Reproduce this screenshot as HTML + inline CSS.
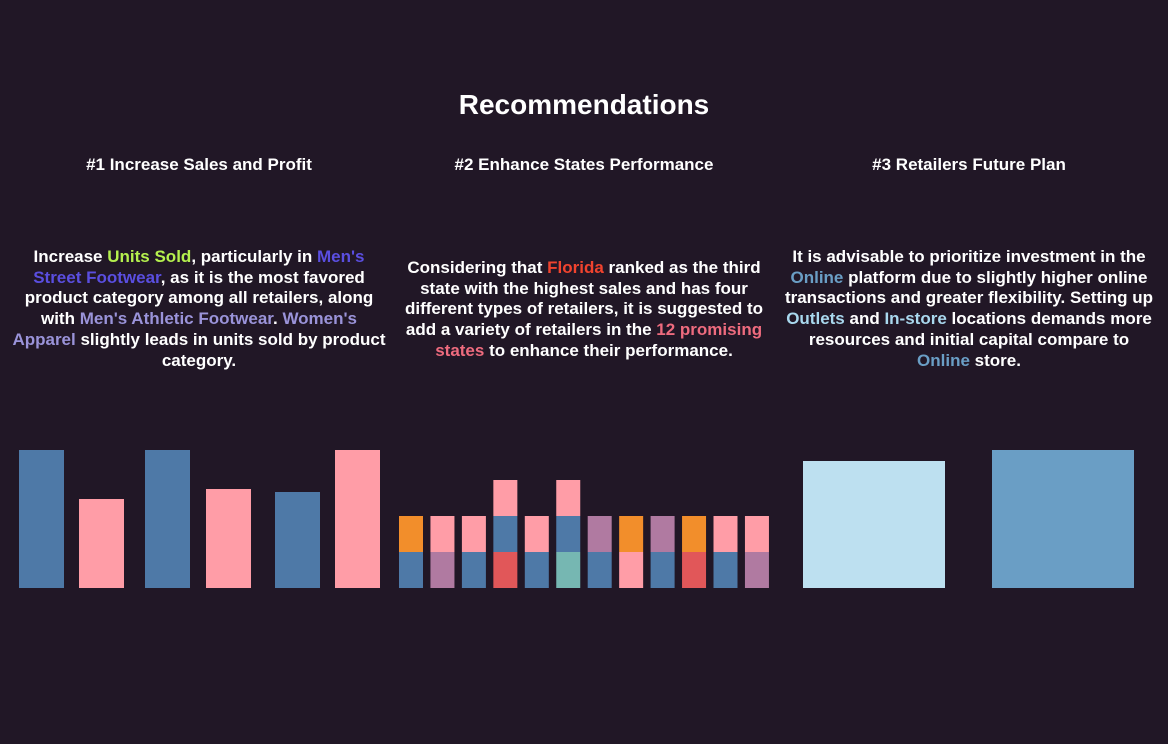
<!DOCTYPE html>
<html><head><meta charset="utf-8">
<style>
html,body{margin:0;padding:0;background:#211726;}
body{width:1168px;height:744px;position:relative;overflow:hidden;font-family:"Liberation Sans",Arial,sans-serif;color:#fff;font-weight:bold;}
.t{position:absolute;text-align:center;white-space:nowrap;}
#title{left:0;width:1168px;top:89px;font-size:28px;}
.sub{top:155px;font-size:17px;width:390px;}
.body{font-size:17px;line-height:20.7px;width:390px;}
svg{position:absolute;left:0;top:0;}
</style></head><body>
<div class="t" id="title">Recommendations</div>
<div class="t sub" style="left:4px">#1 Increase Sales and Profit</div>
<div class="t sub" style="left:389px">#2 Enhance States Performance</div>
<div class="t sub" style="left:774px">#3 Retailers Future Plan</div>
<div class="t body" style="left:4px;top:247px">Increase <span style="color:#b5f04e">Units Sold</span>, particularly in <span style="color:#5a4ee0">Men's</span><br><span style="color:#5a4ee0">Street Footwear</span>, as it is the most favored<br>product category among all retailers, along<br>with <span style="color:#9a93d9">Men's Athletic Footwear</span>. <span style="color:#9a93d9">Women's</span><br><span style="color:#9a93d9">Apparel</span> slightly leads in units sold by product<br>category.</div>
<div class="t body" style="left:389px;top:258px">Considering that <span style="color:#f0432e">Florida</span> ranked as the third<br>state with the highest sales and has four<br>different types of retailers, it is suggested to<br>add a variety of retailers in the <span style="color:#ee6b7e">12 promising</span><br><span style="color:#ee6b7e">states</span> to enhance their performance.</div>
<div class="t body" style="left:774px;top:247px">It is advisable to prioritize investment in the<br><span style="color:#6a9ec5">Online</span> platform due to slightly higher online<br>transactions and greater flexibility. Setting up<br><span style="color:#a9d8ee">Outlets</span> and <span style="color:#a9d8ee">In-store</span> locations demands more<br>resources and initial capital compare to<br><span style="color:#6a9ec5">Online</span> store.</div>
<svg id="chart" width="1168" height="744"></svg>
<script>
const c1Values=[138,89,138,99,96,138];
const c1Colors=["#4e79a7","#ff9da7","#4e79a7","#ff9da7","#4e79a7","#ff9da7"];
const c2Stacks=[["#4e79a7","#f28e2b"],["#b07aa1","#ff9da7"],["#4e79a7","#ff9da7"],["#e15759","#4e79a7","#ff9da7"],["#4e79a7","#ff9da7"],["#76b7b2","#4e79a7","#ff9da7"],["#4e79a7","#b07aa1"],["#ff9da7","#f28e2b"],["#4e79a7","#b07aa1"],["#e15759","#f28e2b"],["#4e79a7","#ff9da7"],["#b07aa1","#ff9da7"]];
const c2Values=[[1,1],[1,1],[1,1],[1,1,1],[1,1],[1,1,1],[1,1],[1,1],[1,1],[1,1],[1,1],[1,1]];
const c3Values=[127,138];
const c3Colors=["#bde0f0","#6a9ec5"];
const svg=document.getElementById('chart');
const NS='http://www.w3.org/2000/svg';
const base=588;
function rect(x,y,w,h,f){const r=document.createElementNS(NS,'rect');r.setAttribute('x',x);r.setAttribute('y',y);r.setAttribute('width',w);r.setAttribute('height',h);r.setAttribute('fill',f);svg.appendChild(r);return r;}
const c1X=[19,79,145,206,275,335];
c1Values.forEach((v,i)=>{const r=rect(c1X[i],base-v,45,v,c1Colors[i]);

});
const seg=36;
c2Values.forEach((st,i)=>{let y=base;st.forEach((v,j)=>{const h=v*seg;y-=h;const r=rect(399+i*31.45,y,24,h,c2Stacks[i][j]);

});});
c3Values.forEach((v,i)=>{const r=rect(803+i*189,base-v,142,v,c3Colors[i]);

});
</script>
</body></html>
